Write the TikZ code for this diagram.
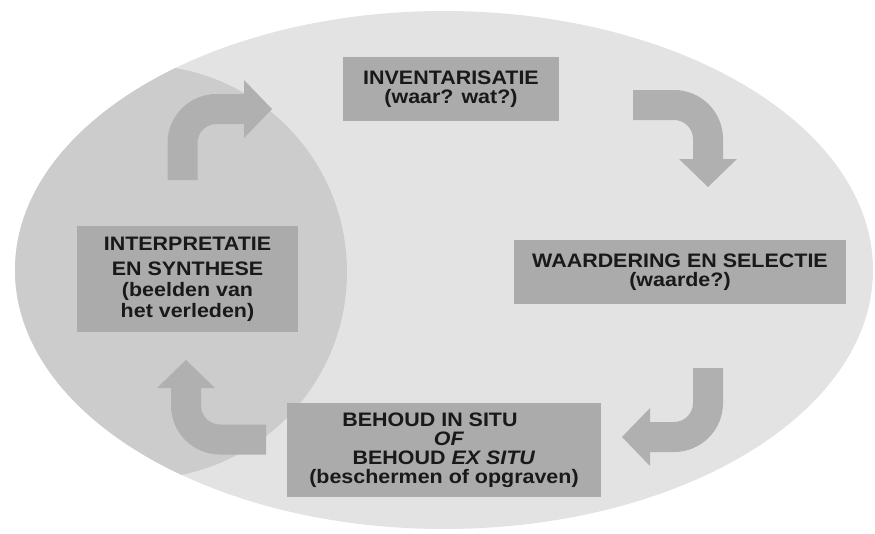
\documentclass[tikz,border=0pt]{standalone}
\usepackage{fontspec}
\newfontfamily\boxfont[FakeStretch=1.1]{Liberation Sans}
\usetikzlibrary{arrows.meta, positioning}

\definecolor{ovalgray}{gray}{0.89}
\definecolor{lensgray}{gray}{0.80}
\definecolor{boxgray}{gray}{0.67}
\definecolor{arrowgray}{gray}{0.69}

\begin{document}
\begin{tikzpicture}[
    x=1pt, y=-1pt,
    % grey stage boxes
    stage/.style={fill=boxgray, text=black!90, inner sep=0pt, align=center,
                  font=\boxfont\bfseries\fontsize{19.5}{19}\selectfont},
    % fat bent arrows between the stages
    flow/.style={draw=arrowgray, line width=30pt, rounded corners=34pt,
                 -{Triangle[width=58pt, length=28pt, line width=0pt]}}
]
\useasboundingbox (0,0) rectangle (875,533);

% === BACKGROUND ===
\fill[ovalgray] (444,270) ellipse [x radius=429pt, y radius=259pt];
\begin{scope}
  \clip (444,270) ellipse [x radius=429pt, y radius=259pt];
  \fill[lensgray] (140,272) circle [radius=207pt];
\end{scope}

% === STAGES ===
\node[stage, minimum width=216pt, minimum height=64pt] (inv) at (451,89)
    {INVENTARISATIE\\(waar? wat?)};
\node[stage, minimum width=332pt, minimum height=64pt] (waard) at (680,272)
    {WAARDERING EN SELECTIE\\(waarde?)};
\node[stage, minimum width=314pt, minimum height=94pt] (behoud) at (444,450)
    {BEHOUD IN SITU\kern28pt\\\kern10pt\textit{OF}\\BEHOUD \textit{EX SITU}\\(beschermen of opgraven)};
\node[stage, minimum width=221pt, minimum height=106pt,
      font=\boxfont\bfseries\fontsize{19.5}{21}\selectfont] (interp) at (187.5,279)
    {INTERPRETATIE\\[4pt]EN SYNTHESE\\(beelden van\\het verleden)};

% === ARROWS ===
\coordinate (a1s) at (182.5,180);
\coordinate (a1e) at (272,109);
\coordinate (a2s) at (633,105);
\coordinate (a2e) at (708,187);
\coordinate (a3s) at (708,368);
\coordinate (a3e) at (622,437);
\coordinate (a4s) at (266,439.5);
\coordinate (a4e) at (186,360);

% interpretatie -> inventarisatie
\draw[flow] (a1s) |- (a1e);
% inventarisatie -> waardering
\draw[flow] (a2s) -| (a2e);
% waardering -> behoud
\draw[flow] (a3s) |- (a3e);
% behoud -> interpretatie
\draw[flow] (a4s) -| (a4e);

\end{tikzpicture}
\end{document}
